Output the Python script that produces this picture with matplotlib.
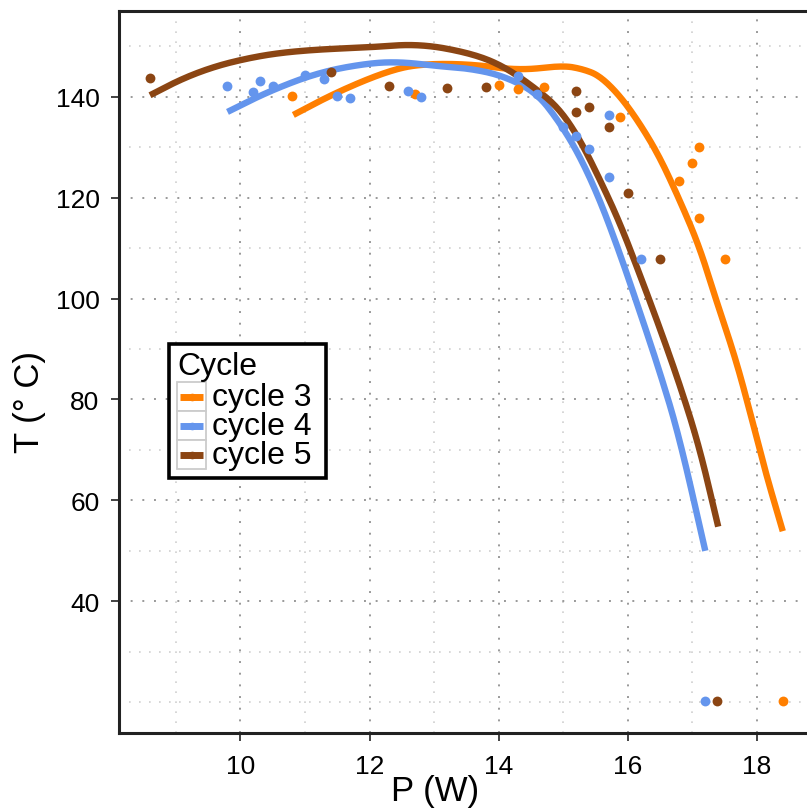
import numpy as np
import matplotlib
matplotlib.use('Agg')
import matplotlib.pyplot as plt
from matplotlib.lines import Line2D
from matplotlib.patches import Rectangle

plt.rcParams['font.family'] = ['Liberation Sans', 'DejaVu Sans']

# measured points
c3_p = [10.8, 12.7, 14.0, 14.3, 14.7, 15.88, 16.8, 17.0, 17.1, 17.1, 17.5, 18.4]
c3_t = [140.1, 140.6, 142.4, 141.5, 141.9, 136.0, 123.4, 126.9, 130.0, 116.0, 107.9, 20.2]
c4_p = [9.8, 10.2, 10.3, 10.5, 11.0, 11.3, 11.5, 11.7, 12.6, 12.8, 14.3, 14.6, 15.0,
        15.2, 15.4, 15.71, 15.71, 16.2, 17.2]
c4_t = [142.2, 140.9, 143.1, 142.2, 144.4, 143.5, 140.1, 139.7, 141.1, 139.9, 144.1, 140.5, 134.1,
        132.2, 129.6, 136.3, 124.1, 107.9, 20.2]
c5_p = [8.6, 11.4, 12.3, 13.2, 13.8, 15.2, 15.2, 15.4, 15.71, 16.0, 16.5, 17.38]
c5_t = [143.7, 145.0, 142.2, 141.8, 142.0, 141.2, 137.0, 137.9, 134.0, 121.0, 107.9, 20.2]

# smoothed curves
s3_p = [10.82, 11.49, 12.26, 12.77, 13.55, 14.32, 14.99, 15.3, 15.56, 15.87, 16.17, 16.48, 16.79,
        17.10, 17.36, 17.67, 17.92, 18.13, 18.40]
s3_t = [136.4, 140.9, 145.0, 146.5, 146.5, 145.2, 146.2, 145.5, 144.2, 140.3, 135.0, 128.4, 119.9,
        110.6, 100.0, 88.1, 76.2, 65.7, 53.9]
s4_p = [9.8, 10.46, 11.23, 12.0, 12.5, 13.03, 13.55, 14.06, 14.58, 14.94, 15.25, 15.56, 15.87,
        16.17, 16.48, 16.79, 17.2]
s4_t = [137.0, 141.2, 144.9, 146.7, 146.9, 146.1, 145.6, 144.2, 140.9, 135.0, 128.4, 119.8, 109.2,
        98.0, 86.1, 73.0, 50.0]
s5_p = [8.6, 9.1, 9.6, 10.1, 10.6, 11.23, 12.0, 12.77, 13.55, 14.06, 14.58, 14.94, 15.25, 15.56, 15.87,
        16.17, 16.48, 16.79, 17.10, 17.40]
s5_t = [140.3, 143.6, 146.0, 147.6, 148.7, 149.4, 149.8, 150.5, 148.7, 146.2, 141.6, 137.6, 131.7, 123.8, 115.2,
        105.3, 94.7, 83.5, 71.0, 54.8]

labels = ['cycle 3', 'cycle 4', 'cycle 5']
colors = ['#ff7f00', '#6495ed', '#8b4513']


def chaikin(px, py, n_iter=4):
    # corner cutting, keeps the end points
    pts = np.column_stack([px, py]).astype(float)
    for _ in range(n_iter):
        q = 0.75 * pts[:-1] + 0.25 * pts[1:]
        r = 0.25 * pts[:-1] + 0.75 * pts[1:]
        mid = np.empty((2 * len(q), 2))
        mid[0::2] = q
        mid[1::2] = r
        pts = np.vstack([pts[:1], mid, pts[-1:]])
    return pts[:, 0], pts[:, 1]


fig = plt.figure(figsize=(8.07, 8.12), dpi=100)
ax = fig.add_axes([119 / 807, 1 - 734 / 812, 1 - 119 / 807 + 0.01, (734 - 12) / 812])

for sp, st, c in zip([s3_p, s4_p, s5_p], [s3_t, s4_t, s5_t], colors):
    xs, ys = chaikin(sp, st)
    ax.plot(xs, ys, color=c, lw=4.6, solid_capstyle='butt', solid_joinstyle='round', zorder=3)
for pp, pt, c in zip([c3_p, c4_p, c5_p], [c3_t, c4_t, c5_t], colors):
    ax.scatter(pp, pt, s=50, color=c, lw=0, zorder=4)

ax.set_xlim(8.12, 18.9)
ax.set_ylim(13.9, 157)
ax.set_xticks([10, 12, 14, 16, 18])
ax.set_xticks([9, 11, 13, 15, 17], minor=True)
ax.set_yticks([40, 60, 80, 100, 120, 140])
ax.set_yticks([20, 30, 50, 70, 90, 110, 130, 150], minor=True)
ax.grid(which='major', color='#999999', ls=(0, (1, 5)), lw=1.4)
ax.grid(which='minor', color='#d0d0d0', ls=(0, (1, 5)), lw=1.2)
ax.set_axisbelow(True)
ax.tick_params(which='major', length=6, width=1.2, color='#222222', labelsize=19)
ax.tick_params(axis='y', pad=8)
ax.tick_params(axis='x', pad=9)
ax.tick_params(which='minor', length=0)
for s in ['left', 'bottom', 'top']:
    ax.spines[s].set_linewidth(2.2)
    ax.spines[s].set_color('#222222')
ax.spines['right'].set_visible(False)

fig.text(435 / 807, 1 - 792 / 812, 'P (W)', fontsize=25, ha='center', va='center')
fig.text(30 / 807, 1 - 402 / 812, 'T (° C)', fontsize=25, ha='center', va='center', rotation=90)

# legend drawn in pixel space on an overlay
lax = fig.add_axes([0, 0, 1, 1], zorder=10)
lax.set_xlim(0, 807)
lax.set_ylim(812, 0)
lax.axis('off')
lax.add_patch(Rectangle((169, 345), 157, 134, fc='white', ec='black', lw=2.6))
lax.text(177, 367, 'Cycle', fontsize=23, va='center', ha='left')
for i, (lab, c) in enumerate(zip(labels, colors)):
    y0 = 383 + 29 * i
    lax.add_patch(Rectangle((177, y0), 29, 29, fc='white', ec='#cccccc', lw=1.3))
    lax.plot([180, 203], [y0 + 14.5, y0 + 14.5], color=c, lw=5, solid_capstyle='butt')
    lax.plot([191.5], [y0 + 14.5], 'o', color=c, ms=4.5)
    lax.text(212, y0 + 15, lab, fontsize=23, va='center', ha='left')

fig.savefig('out.png', dpi=100)
